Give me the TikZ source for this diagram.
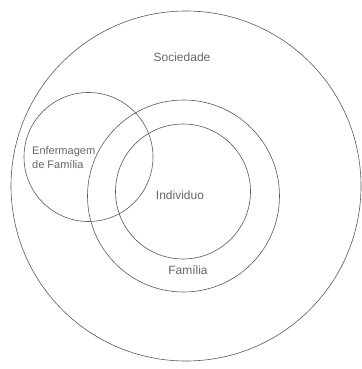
\documentclass[tikz,border=0pt]{standalone}
\usepackage{fontspec}
\setmainfont{Liberation Sans}
\begin{document}
\begin{tikzpicture}[x=1pt,y=-1pt,
  ring/.style={circle, draw=black!65, line width=0.6pt, inner sep=0pt},
  lbl/.style={text=black!60, font=\fontsize{12}{14}\selectfont, inner sep=0pt}]
\useasboundingbox (0,0) rectangle (361,369);
\node[ring, minimum size=350pt] (soc) at (186,186) {};
\node[ring, minimum size=192pt] (fam) at (183.5,196) {};
\node[ring, minimum size=135pt] (ind) at (183,191.5) {};
\node[ring, minimum size=129pt] (enf) at (88.5,157) {};
\node[lbl] (tsoc) at (182,57) {Sociedade};
\node[lbl, align=left, anchor=west, font=\fontsize{11}{14}\selectfont] (tenf) at (32,157.5) {Enfermagem\\de Família};
\node[lbl] (tind) at (180,195) {Individuo};
\node[lbl] (tfam) at (188,270) {Família};
\end{tikzpicture}
\end{document}
